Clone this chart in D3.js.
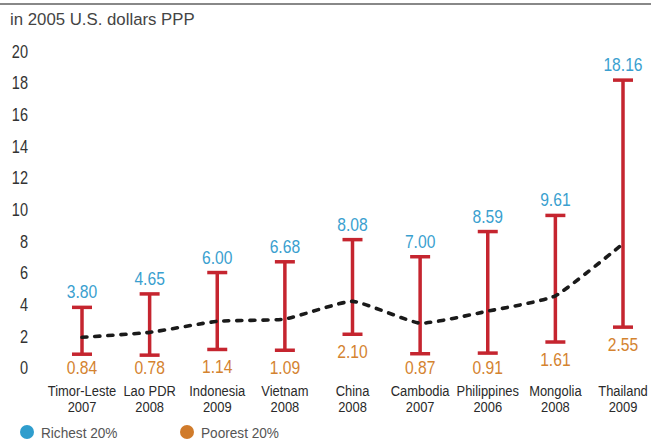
<!DOCTYPE html>
<html><head><meta charset="utf-8">
<script src="https://cdn.jsdelivr.net/npm/d3@7"></script>
<style>
body{margin:0;background:#fff;}
svg{display:block;}
text{font-family:"Liberation Sans",Arial,sans-serif;}
</style></head>
<body><svg id="c" width="651" height="442"></svg>
<script>
const countries = ["Timor-Leste","Lao PDR","Indonesia","Vietnam","China","Cambodia","Philippines","Mongolia","Thailand"];
const years = ["2007","2008","2009","2008","2008","2007","2006","2008","2009"];
const richest = [3.80,4.65,6.00,6.68,8.08,7.00,8.59,9.61,18.16];
const poorest = [0.84,0.78,1.14,1.09,2.10,0.87,0.91,1.61,2.55];
const median = [1.91,2.22,2.92,3.06,4.18,2.80,3.56,4.53,7.82];
const yTicks = [0,2,4,6,8,10,12,14,16,18,20];
const unitLabel = "in 2005 U.S. dollars PPP";
const legendItems = ["Richest 20%","Poorest 20%"];

const svg = d3.select("#c");
const blue = "#3a9fcf", orange = "#d4832f", red = "#c5252f";
const x = d3.scalePoint().domain(countries).range([82,623]);
const y = d3.scaleLinear().domain([0,20]).range([367.5,51]);

// top rule
svg.append("line").attr("x1",0).attr("x2",651).attr("y1",4).attr("y2",4)
  .attr("stroke","#888").attr("stroke-width",2);
svg.append("text").attr("x",10).attr("y",24.5)
  .attr("font-size",16.8).attr("fill","#444").text(unitLabel);

// y axis
const yAxis = d3.axisLeft(y).tickValues(yTicks).tickSize(0).tickPadding(0);
const ga = svg.append("g").attr("transform","translate(28,0)").call(yAxis);
ga.select(".domain").remove();
ga.selectAll("text").attr("font-family","Liberation Sans, Arial, sans-serif")
  .attr("font-size",17.5).attr("fill","#333").attr("dy","0.36em").attr("x",0)
  .attr("transform","scale(0.83,1)");

const data = countries.map((c,i)=>({c,yr:years[i],hi:richest[i],lo:poorest[i],m:median[i]}));

// error bars
const g = svg.append("g");
g.selectAll("line.v").data(data).join("line").attr("class","v")
  .attr("x1",d=>x(d.c)).attr("x2",d=>x(d.c)).attr("y1",d=>y(d.hi)).attr("y2",d=>y(d.lo))
  .attr("stroke",red).attr("stroke-width",3.5);
["hi","lo"].forEach(k=>{
  g.selectAll("line.cap"+k).data(data).join("line").attr("class","cap"+k)
    .attr("x1",d=>x(d.c)-10).attr("x2",d=>x(d.c)+10).attr("y1",d=>y(d[k])).attr("y2",d=>y(d[k]))
    .attr("stroke",red).attr("stroke-width",3.5);
});

// median dashed line
const line = d3.line().x(d=>x(d.c)).y(d=>y(d.m)).curve(d3.curveCardinal.tension(0.55));
svg.append("path").datum(data).attr("d",line).attr("fill","none")
  .attr("stroke","#1a1a1a").attr("stroke-width",3.6).attr("stroke-dasharray","5,8")
  .attr("stroke-linecap","round");

// value labels
svg.selectAll("g.hi").data(data).join("g").attr("class","hi")
  .attr("transform",d=>`translate(${x(d.c)},${y(d.hi)-9}) scale(0.86,1)`)
  .append("text").attr("text-anchor","middle")
  .attr("font-size",18.2).attr("fill",blue).text(d=>d.hi.toFixed(2));
svg.selectAll("g.lo").data(data).join("g").attr("class","lo")
  .attr("transform",d=>`translate(${x(d.c)},${Math.min(y(d.lo)+24,373.5)}) scale(0.86,1)`)
  .append("text").attr("text-anchor","middle")
  .attr("font-size",18.2).attr("fill",orange).text(d=>d.lo.toFixed(2));

// category labels (name + year as separate texts)
const cg = svg.selectAll("g.cat").data(data).join("g").attr("class","cat")
  .attr("transform",d=>`translate(${x(d.c)},0) scale(0.85,1)`);
cg.append("text").attr("text-anchor","middle").attr("font-size",15.2).attr("fill","#2a2a2a")
  .attr("y",396.5).text(d=>d.c);
cg.append("text").attr("text-anchor","middle").attr("font-size",15.2).attr("fill","#2a2a2a")
  .attr("y",412.5).text(d=>d.yr);

// legend
const lg = svg.selectAll("g.leg").data(legendItems).join("g").attr("class","leg")
  .attr("transform",(d,i)=>`translate(${27+i*160},432)`);
lg.append("circle").attr("r",7).attr("fill",(d,i)=>i===0?"#2f9dcd":"#d07b2b");
lg.append("g").attr("transform","translate(14,0) scale(0.88,1)")
  .append("text").attr("dy","0.36em").attr("font-size",15.5)
  .attr("fill","#555").text(d=>d);
</script></body></html>
